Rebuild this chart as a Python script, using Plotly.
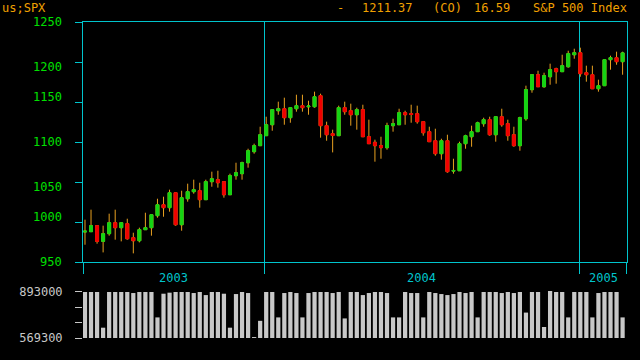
import plotly.graph_objects as go

# ---------------- data (weekly S&P 500) ----------------
OPEN = [987.5, 987.9, 995.4, 975.8, 985.4, 999.1, 992.9, 997.9, 980.4, 976.6,
        990.4, 992.9, 1007.9, 1021.6, 1017.9, 1036.6, 996.6, 1029.1, 1037.9, 1039.1,
        1027.9, 1050.4, 1052.9, 1050.4, 1034.1, 1057.9, 1060.4, 1074.1, 1087.9, 1095.4,
        1107.9, 1121.6, 1139.1, 1141.6, 1130.4, 1141.6, 1145.4, 1144.0, 1144.1, 1157.9,
        1120.4, 1110.4, 1107.9, 1142.9, 1139.1, 1134.1, 1140.4, 1106.6, 1099.6, 1095.4,
        1092.9, 1120.4, 1121.6, 1136.6, 1135.4, 1135.4, 1125.4, 1112.9, 1101.6, 1085.4,
        1101.6, 1063.6, 1064.1, 1097.9, 1106.6, 1112.9, 1122.9, 1127.9, 1109.1, 1131.6,
        1122.9, 1109.1, 1095.4, 1129.1, 1165.4, 1184.1, 1169.1, 1181.6, 1191.6, 1187.9,
        1194.1, 1209.1, 1211.6, 1186.6, 1184.1, 1166.6, 1170.4, 1202.9, 1205.4, 1200.4]
HIGH = [1002.9, 1015.4, 995.6, 995.4, 1010.4, 1015.4, 999.1, 1004.1, 986.6, 992.9,
        1011.6, 1009.1, 1029.1, 1031.6, 1040.4, 1036.6, 1039.1, 1047.9, 1052.9, 1049.1,
        1052.9, 1062.9, 1064.1, 1050.4, 1060.4, 1074.1, 1075.4, 1091.6, 1097.9, 1119.1,
        1131.6, 1140.4, 1150.4, 1155.4, 1142.9, 1159.1, 1159.1, 1151.6, 1162.9, 1160.4,
        1125.4, 1115.4, 1145.4, 1150.4, 1147.9, 1142.9, 1146.6, 1127.9, 1102.9, 1106.6,
        1124.1, 1129.1, 1141.6, 1139.1, 1146.6, 1145.4, 1125.4, 1119.1, 1116.6, 1104.1,
        1109.1, 1079.1, 1100.4, 1109.1, 1120.4, 1125.4, 1130.4, 1131.6, 1131.6, 1141.6,
        1127.9, 1119.1, 1131.6, 1170.4, 1184.1, 1189.1, 1186.6, 1197.9, 1192.9, 1209.1,
        1214.1, 1216.6, 1217.9, 1195.4, 1195.4, 1177.9, 1202.9, 1207.9, 1212.9, 1212.9]
LOW = [971.6, 987.5, 972.9, 962.0, 982.9, 977.9, 975.8, 977.9, 960.8, 974.5,
       990.4, 982.9, 1005.4, 1006.6, 1012.9, 995.4, 989.1, 1025.4, 1035.4, 1017.9,
       1027.9, 1044.1, 1042.9, 1030.4, 1034.1, 1052.9, 1052.9, 1067.9, 1085.4, 1095.4,
       1107.9, 1114.1, 1134.1, 1121.6, 1124.1, 1137.9, 1137.9, 1134.1, 1142.9, 1105.4,
       1101.6, 1087.0, 1107.9, 1134.1, 1120.4, 1115.4, 1106.6, 1097.9, 1075.4, 1079.1,
       1090.4, 1112.9, 1121.6, 1121.6, 1124.1, 1122.9, 1107.9, 1100.4, 1082.9, 1077.9,
       1061.6, 1060.4, 1064.1, 1091.6, 1094.1, 1112.9, 1119.1, 1107.9, 1100.4, 1119.1,
       1101.6, 1094.1, 1089.1, 1126.6, 1161.6, 1169.1, 1167.9, 1171.6, 1172.9, 1187.9,
       1192.9, 1204.1, 1181.6, 1175.4, 1166.6, 1162.9, 1170.4, 1190.4, 1196.6, 1184.1]
CLOSE = [988.5, 995.4, 975.8, 985.4, 999.1, 992.9, 999.1, 979.1, 976.6, 990.4,
         992.9, 1009.1, 1021.6, 1017.9, 1036.6, 996.6, 1030.4, 1037.9, 1040.4, 1027.9,
         1050.4, 1054.1, 1049.1, 1034.1, 1057.9, 1061.6, 1074.1, 1089.1, 1095.4, 1109.1,
         1121.6, 1140.4, 1141.6, 1130.4, 1142.9, 1145.4, 1142.9, 1145.0, 1156.6, 1120.4,
         1109.1, 1108.2, 1142.9, 1137.9, 1134.1, 1140.4, 1106.6, 1097.9, 1095.4, 1092.9,
         1120.4, 1122.9, 1136.6, 1134.1, 1134.5, 1125.4, 1111.6, 1100.4, 1085.4, 1101.6,
         1062.9, 1064.4, 1097.9, 1107.9, 1112.9, 1124.1, 1127.9, 1109.1, 1131.6, 1121.6,
         1107.9, 1095.4, 1130.4, 1165.4, 1184.1, 1169.1, 1182.9, 1190.4, 1187.9, 1195.4,
         1210.4, 1211.6, 1185.4, 1184.1, 1166.6, 1170.4, 1202.9, 1205.4, 1200.4, 1211.37]
VOLUME = [893000, 893000, 893000, 641800, 893000, 893000, 893000, 893000, 885700, 893000,
          893000, 893000, 714200, 880900, 888200, 893000, 893000, 893000, 885700, 893000,
          871300, 893000, 893000, 880900, 641800, 878500, 893000, 885700, 576000, 690100,
          893000, 893000, 714200, 885700, 893000, 885700, 714200, 885700, 893000, 893000,
          893000, 885700, 893000, 707000, 893000, 893000, 871300, 885700, 893000, 893000,
          885700, 714200, 714200, 893000, 885700, 885700, 714200, 893000, 885700, 878500,
          871300, 878500, 893000, 885700, 893000, 714200, 893000, 893000, 893000, 885700,
          893000, 885700, 893000, 748100, 893000, 893000, 646600, 900300, 893000, 893000,
          714200, 893000, 893000, 893000, 714200, 885700, 893000, 893000, 893000, 714200]

YEAR_LABELS = ["2003", "2004", "2005"]
YEAR_START_INDEX = [29.78, 81.8]          # week index at which Jan 1 falls
PRICE_TICKS = [950, 1000, 1050, 1100, 1150, 1200, 1250]
VOLUME_TICKS = [569300, 677200, 785100, 893000]
VOLUME_TICK_TEXT = ["569300", "", "", "893000"]
HEADER_SYMBOL = "us;SPX"
HEADER_FIELDS = ["-", "1211.37", "(CO)", "16.59", "S&P 500 Index"]

# ---------------- style ----------------
BG = "#000000"
CYAN = "#00c4cc"
GREEN_TXT = "#00e000"
BODY_UP = "#14d414"
BODY_DN = "#f00000"
WICK = "#e8a020"
ORANGE = "#f0a000"
GRAY = "#c8c8c8"
FONT = "DejaVu Sans Mono"

X = list(range(len(OPEN)))
X_LO, X_HI = -0.33, len(OPEN) - 1 + 0.73
body_hi = [max(o, c) for o, c in zip(OPEN, CLOSE)]
body_lo = [min(o, c) for o, c in zip(OPEN, CLOSE)]

fig = go.Figure()
# wicks (orange) - full OHLC
fig.add_trace(go.Candlestick(
    x=X, open=OPEN, high=HIGH, low=LOW, close=CLOSE,
    increasing=dict(line=dict(color=WICK, width=1), fillcolor=WICK),
    decreasing=dict(line=dict(color=WICK, width=1), fillcolor=WICK),
    whiskerwidth=0, hoverinfo="skip", showlegend=False))
# bodies (green / red) on top
fig.add_trace(go.Candlestick(
    x=X, open=OPEN, high=body_hi, low=body_lo, close=CLOSE,
    increasing=dict(line=dict(color=BODY_UP, width=1), fillcolor=BODY_UP),
    decreasing=dict(line=dict(color=BODY_DN, width=1), fillcolor=BODY_DN),
    whiskerwidth=0, showlegend=False))
# volume
fig.add_trace(go.Bar(x=X, y=VOLUME, xaxis="x2", yaxis="y2", width=0.7,
                     marker=dict(color=GRAY, line=dict(width=0)), showlegend=False))

bounds = [X_LO + 0.01] + YEAR_START_INDEX + [X_HI - 0.01]

H_PLOT_TOP, H_PLOT_BOT = 22, 338
PH = H_PLOT_BOT - H_PLOT_TOP
def py(pix):
    return (H_PLOT_BOT - pix) / PH
def px(pix):
    return (pix - 83) / 544

fig.update_layout(
    width=640, height=360, autosize=False,
    margin=dict(l=83, r=13, t=H_PLOT_TOP, b=360 - H_PLOT_BOT, pad=0),
    paper_bgcolor=BG, plot_bgcolor=BG,
    font=dict(family=FONT, size=12, color=GREEN_TXT),
    showlegend=False,
    xaxis=dict(range=[X_LO, X_HI], anchor="y", rangeslider=dict(visible=False),
               tickvals=bounds, showticklabels=False, ticks="outside", ticklen=11,
               tickcolor=CYAN, tickwidth=1, showgrid=True, gridcolor=CYAN, gridwidth=1,
               showline=True, linecolor=CYAN, linewidth=1, mirror=True, zeroline=False),
    yaxis=dict(range=[950, 1250], domain=[py(262), 1], anchor="x",
               tickvals=PRICE_TICKS, showticklabels=False, ticks="outside", ticklen=7,
               tickcolor=CYAN, showgrid=False, zeroline=False,
               showline=True, linecolor=CYAN, linewidth=1, mirror=True),
    xaxis2=dict(matches="x", range=[X_LO, X_HI], anchor="y2", visible=False),
    yaxis2=dict(range=[569300, 907000], domain=[0, py(290)], anchor="x2",
                tickvals=VOLUME_TICKS, ticktext=VOLUME_TICK_TEXT, ticks="outside",
                ticklen=7, tickcolor=GRAY, tickfont=dict(color=GRAY, size=12, family=FONT),
                ticklabelstandoff=10, showgrid=False, zeroline=False, showline=False),
)

ann = []
label_shift = {1250: 0, 1200: -5, 1150: 5, 1100: 0, 1050: -5, 1000: 5, 950: 0}
for v in PRICE_TICKS:
    ann.append(dict(x=0, xref="paper", xanchor="right", xshift=-19, y=v, yref="y",
                    yanchor="middle", yshift=label_shift.get(v, 0), text=str(v),
                    showarrow=False, font=dict(color=GREEN_TXT, size=12, family=FONT)))
edges = [X_LO] + YEAR_START_INDEX + [X_HI]
for i, lab in enumerate(YEAR_LABELS):
    ann.append(dict(x=(edges[i] + edges[i + 1]) / 2, xref="x", xanchor="center",
                    y=py(277.5), yref="paper", yanchor="middle", text=lab, showarrow=False,
                    font=dict(color=CYAN, size=12, family=FONT)))
hdr_font = dict(color=ORANGE, size=12, family=FONT)
ann.append(dict(x=px(0), xref="paper", xanchor="left", y=py(8), yref="paper",
                yanchor="middle", text=HEADER_SYMBOL, showarrow=False, font=hdr_font))
hdr_pos = [(340, "center"), (360, "left"), (431, "left"), (472, "left"), (629, "right")]
for (p, anc), t in zip(hdr_pos, HEADER_FIELDS):
    ann.append(dict(x=px(p), xref="paper", xanchor=anc, y=py(8), yref="paper",
                    yanchor="middle", text=t, showarrow=False, font=hdr_font))
fig.update_layout(annotations=ann)

fig.write_html("out.html")
